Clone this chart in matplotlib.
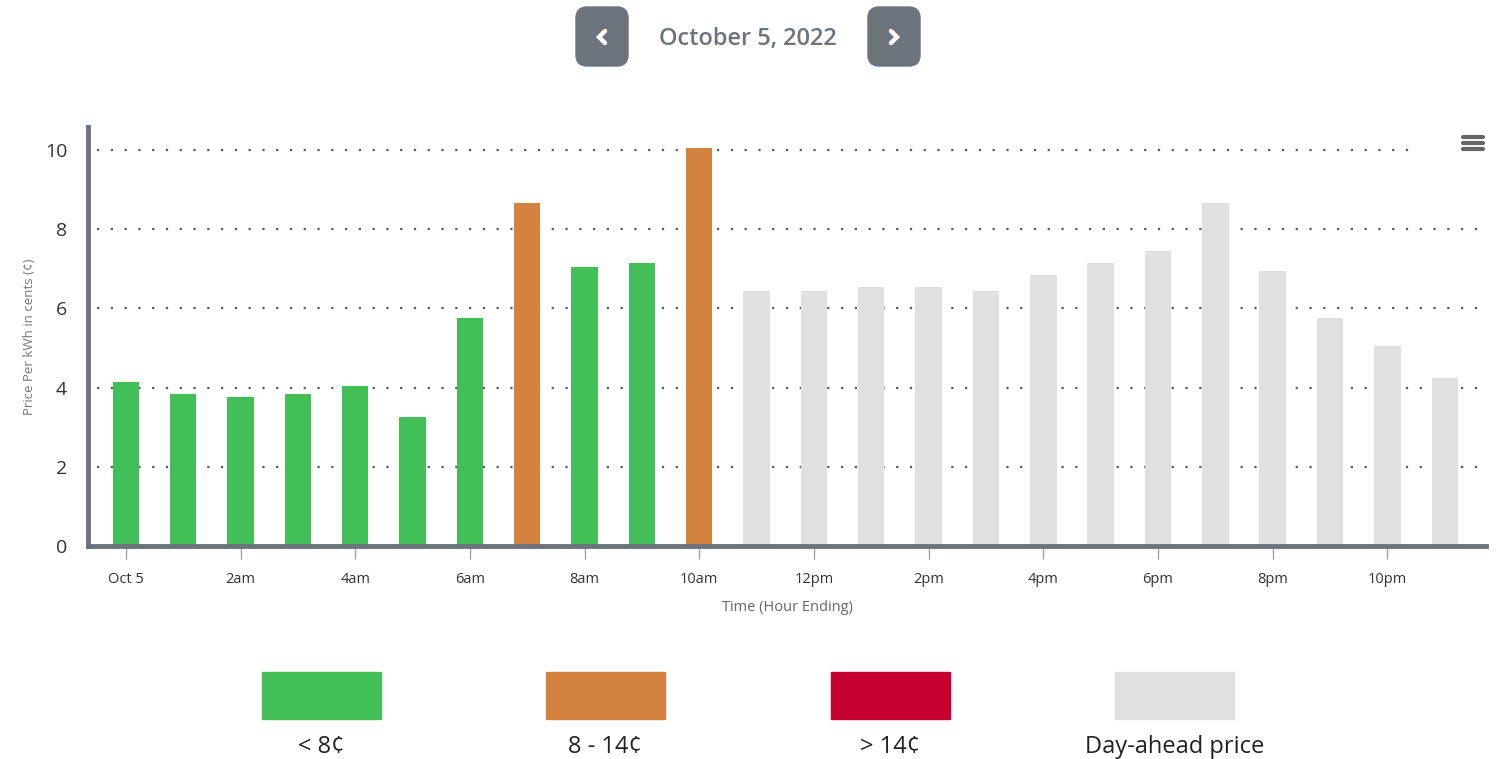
import matplotlib
matplotlib.use("Agg")
import matplotlib.pyplot as plt
from matplotlib.patches import FancyBboxPatch, Rectangle

plt.rcParams['font.family'] = ['Open Sans', 'DejaVu Sans']

# hourly prices (cents / kWh), hour ending
hours = list(range(24))
prices = [4.15, 3.85, 3.75, 3.85, 4.05, 3.25, 5.75, 8.65, 7.05, 7.15, 10.05,
          6.45, 6.45, 6.55, 6.55, 6.45, 6.85, 7.15, 7.45, 8.65, 6.95, 5.75, 5.05, 4.25]
n_actual = 11  # the rest is day-ahead
tick_pos = [0, 2, 4, 6, 8, 10, 12, 14, 16, 18, 20, 22]
tick_labels = ['Oct 5', '2am', '4am', '6am', '8am', '10am', '12pm', '2pm', '4pm', '6pm', '8pm', '10pm']
legend_labels = ['< 8¢', '8 - 14¢', '> 14¢', 'Day-ahead price']

green = '#43bf57'
orange = '#d48240'
red = '#c70032'
grey = '#e0e0e0'
axis_col = '#6b737c'

def bar_color(i, v):
    if i >= n_actual:
        return grey
    if v < 8:
        return green
    if v <= 14:
        return orange
    return red

colors = [bar_color(i, v) for i, v in enumerate(prices)]

W, H = 1496, 759
fig = plt.figure(figsize=(W / 100, H / 100), dpi=100)

ax = fig.add_axes([88 / W, 213 / H, (1486 - 88) / W, (546 - 127) / H])
ax.set_xlim(-0.66, 23.72)
ax.set_ylim(0, 10.58)

# dotted grid
for y in [2, 4, 6, 8, 10]:
    xend = 22.56 if y == 10 else 23.6
    ax.plot([-0.5, xend], [y, y], linestyle=(0, (1, 5.2)), color='#555a60',
            linewidth=1.6, zorder=0)

ax.bar(hours, prices, width=0.46, color=colors, zorder=2)

for s in ['top', 'right']:
    ax.spines[s].set_visible(False)
ax.spines['left'].set_color(axis_col)
ax.spines['left'].set_linewidth(3.5)
ax.spines['bottom'].set_color(axis_col)
ax.spines['bottom'].set_linewidth(3.5)

ax.set_yticks([0, 2, 4, 6, 8, 10])
ax.tick_params(axis='y', length=0, labelsize=14, labelcolor='#333333', pad=15)
ax.set_xticks(tick_pos)
ax.set_xticklabels(tick_labels)
ax.tick_params(axis='x', length=9, width=1, color='#9aa0a6', labelsize=10.5,
               labelcolor='#333333', pad=10)

ax.set_xlabel('Time (Hour Ending)', fontsize=10.5, color='#666666', labelpad=9)
ax.set_ylabel('Price Per kWh in cents (¢)', fontsize=9.5, color='#777777', labelpad=6)

# overlay in pixel coordinates
ov = fig.add_axes([0, 0, 1, 1], zorder=5)
ov.set_xlim(0, W)
ov.set_ylim(H, 0)
ov.axis('off')
ov.patch.set_alpha(0)

# date navigation
for x0 in [576, 868]:
    ov.add_patch(FancyBboxPatch((x0 + 11, 18), 52 - 22, 59 - 22,
                                boxstyle='round,pad=11', color=axis_col))
ov.plot([605, 599, 605], [31, 37, 43], color='white', linewidth=3.2,
        solid_capstyle='round', solid_joinstyle='miter')
ov.plot([891, 897, 891], [31, 37, 43], color='white', linewidth=3.2,
        solid_capstyle='round', solid_joinstyle='miter')
ov.text(748, 39, 'October 5, 2022', ha='center', va='center', fontsize=17,
        fontweight='semibold', color=axis_col)

# menu icon
for yy in [137, 143, 149]:
    ov.plot([1463, 1483], [yy, yy], color='#666666', linewidth=3,
            solid_capstyle='round')

# legend
leg_cols = [green, orange, red, grey]
leg_x = [262, 546, 831, 1115]
for x0, c, lab in zip(leg_x, leg_cols, legend_labels):
    ov.add_patch(Rectangle((x0, 672), 119, 47, color=c))
    ov.text(x0 + 59.5, 747, lab, ha='center', va='center', fontsize=17,
            color='#222222')

fig.savefig('out.png', dpi=100)
